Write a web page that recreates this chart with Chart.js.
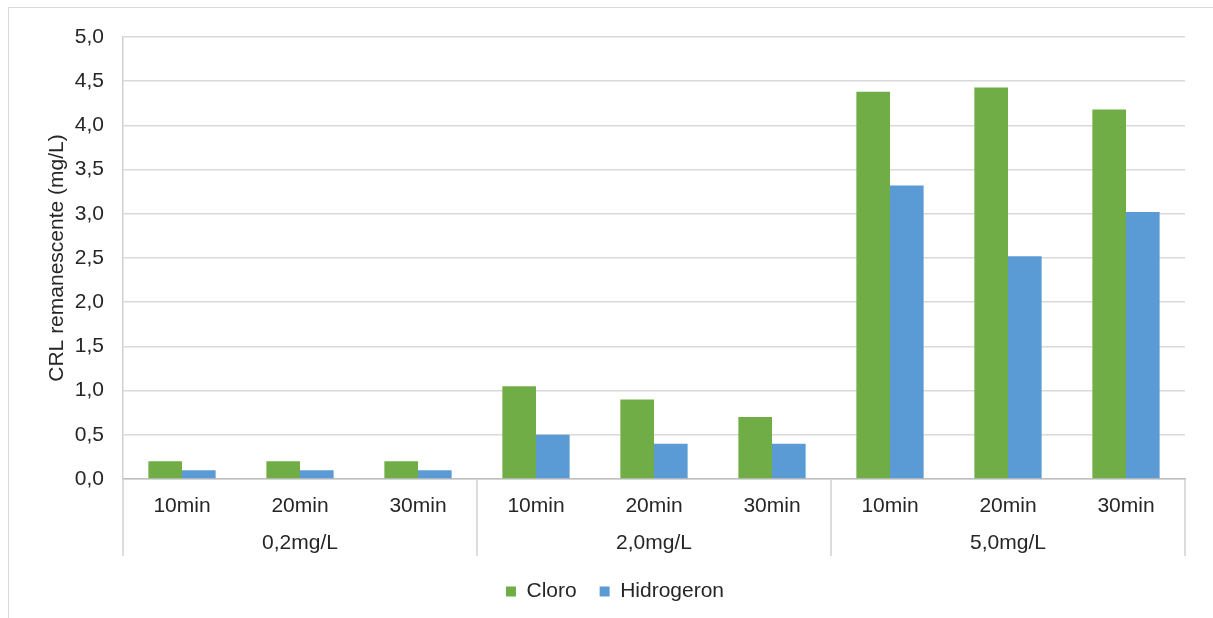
<!DOCTYPE html>
<html>
<head>
<meta charset="utf-8">
<script src="https://cdn.jsdelivr.net/npm/chart.js@4/dist/chart.umd.min.js"></script>
<style>
  html, body { margin: 0; padding: 0; background: #fff; }
  #frame {
    position: absolute; left: 8px; top: 7px; width: 1210px; height: 620px;
    border: 1.5px solid #d9d9d9; box-sizing: border-box;
  }
  #wrap { position: absolute; left: 0; top: 0; width: 1213px; height: 618px; }
</style>
</head>
<body>
<div id="frame"></div>
<div id="wrap"><canvas id="chart"></canvas></div>
<script>
// times within each dose group
const times = ["10min", "20min", "30min", "10min", "20min", "30min", "10min", "20min", "30min"];
// dose groups (3 bars-pairs each)
const groups = ["0,2mg/L", "2,0mg/L", "5,0mg/L"];
const cloro = [0.2, 0.2, 0.2, 1.05, 0.9, 0.7, 4.38, 4.43, 4.18];
const hidrogeron = [0.1, 0.1, 0.1, 0.5, 0.4, 0.4, 3.32, 2.52, 3.02];

const FONT = "'Liberation Sans', Arial, sans-serif";
const TXT = "#262626";

// draws the group row and the separators under the x axis
const groupLabels = {
  id: "groupLabels",
  afterDraw(chart) {
    const x = chart.scales.x;
    const bottom = chart.chartArea.bottom;
    const ctx = chart.ctx;
    const per = times.length / groups.length;
    const step = x.getPixelForValue(1) - x.getPixelForValue(0);
    ctx.save();
    ctx.strokeStyle = "#d0d0d0";
    ctx.lineWidth = 1.5;
    for (let g = 0; g <= groups.length; g++) {
      const px = g < groups.length ? x.getPixelForValue(g * per) - step / 2
                                   : x.getPixelForValue(times.length - 1) + step / 2;
      ctx.beginPath();
      ctx.moveTo(px, bottom);
      ctx.lineTo(px, bottom + 77);
      ctx.stroke();
    }
    ctx.fillStyle = TXT;
    ctx.font = "21px " + FONT;
    ctx.textAlign = "center";
    ctx.textBaseline = "alphabetic";
    groups.forEach((name, g) => {
      const a = x.getPixelForValue(g * per);
      const b = x.getPixelForValue(g * per + per - 1);
      ctx.fillText(name, (a + b) / 2, bottom + 70);
    });
    ctx.restore();
  }
};

new Chart(document.getElementById("chart"), {
  type: "bar",
  plugins: [groupLabels],
  data: {
    labels: times,
    datasets: [
      { label: "Cloro", data: cloro, backgroundColor: "#70ad47" },
      { label: "Hidrogeron", data: hidrogeron, backgroundColor: "#5b9bd5" }
    ]
  },
  options: {
    responsive: true,
    maintainAspectRatio: false,
    animation: false,
    datasets: { bar: { categoryPercentage: 0.57, barPercentage: 1 } },
    layout: { padding: { left: 45, right: 28, top: 37, bottom: 6 } },
    plugins: {
      tooltip: { enabled: false },
      legend: {
        position: "bottom",
        labels: {
          boxWidth: 10, boxHeight: 10, padding: 23,
          color: TXT, font: { family: FONT, size: 21 }
        }
      }
    },
    scales: {
      x: {
        grid: { display: false, drawTicks: false },
        border: { display: true, color: "#bfbfbf", width: 1.5 },
        ticks: { color: TXT, font: { family: FONT, size: 21 }, padding: 15, maxRotation: 0 },
        afterFit: (s) => { s.height = 79; }
      },
      y: {
        min: 0, max: 5,
        grid: { color: "#d9d9d9", lineWidth: 1.5, drawTicks: false },
        border: { display: true, color: "#d0d0d0", width: 1.5 },
        ticks: {
          stepSize: 0.5, padding: 19, color: TXT,
          font: { family: FONT, size: 21 },
          callback: (v) => v.toFixed(1).replace(".", ",")
        },
        title: {
          display: true, text: "CRL remanescente (mg/L)", color: TXT,
          font: { family: FONT, size: 21 }, padding: 0
        },
        afterFit: (s) => { s.width = 78; }
      }
    }
  }
});
</script>
</body>
</html>
